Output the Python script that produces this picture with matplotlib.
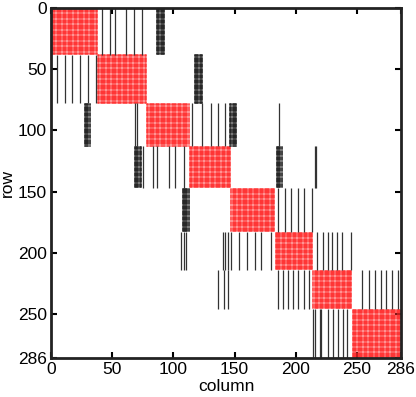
import numpy as np
import matplotlib
matplotlib.use('Agg')
import matplotlib.pyplot as plt

plt.rcParams['font.family'] = ['Liberation Sans', 'DejaVu Sans']

n = 286
# diagonal blocks (1-based, inclusive start, exclusive end)
block_starts = [1, 39, 79, 114, 148, 184, 215, 247]
block_ends = [39, 79, 114, 148, 184, 215, 247, 287]

# off-diagonal single columns that are nonzero over the whole row block
line_cols = [
	[42, 49, 53, 62, 68, 75],
	[5, 12, 18, 24, 31, 37],
	[69, 71, 116, 124, 131, 137, 143, 187],
	[76, 84, 87, 97, 102, 109, 216, 217],
	[186, 192, 197, 202, 207, 214],
	[107, 109, 111, 141, 143, 145, 148, 154, 161, 167, 172, 180,
	 218, 223, 227, 230, 234, 238, 246],
	[137, 142, 145, 186, 190, 194, 198, 202, 207, 211,
	 255, 260, 265, 270, 274, 279, 284],
	[215, 216, 220, 221, 227, 231, 235, 239, 242],
]
# dense column ranges (start, end inclusive) per row block
dense_cols = [
	[(87, 93)],
	[(118, 124)],
	[(28, 32), (147, 152)],
	[(69, 74), (185, 189)],
	[(108, 113)],
	[],
	[],
	[],
]

ticks = [0, 50, 100, 150, 200, 250, 286]

# build the sparsity pattern
red = np.zeros((n, n), dtype=bool)
dense = np.zeros((n, n), dtype=bool)
for b in range(len(block_starts)):
	r0, r1 = block_starts[b] - 1, block_ends[b] - 1
	red[r0:r1, r0:r1] = True
	for c0, c1 in dense_cols[b]:
		dense[r0:r1, c0 - 1:c1] = True

fig = plt.figure(figsize=(4.16, 3.97), dpi=100)
ax = fig.add_axes([0.1226, 0.0982, 0.8413, 0.8816])

rr, cc = np.nonzero(red)
ax.plot(cc + 0.5, rr + 0.5, 's', ms=1.55, mew=0, color='#ff2a2a', alpha=0.5)
rr, cc = np.nonzero(dense)
ax.plot(cc + 0.5, rr + 0.5, 's', ms=1.5, mew=0, color='#222222', alpha=0.6)

# single nonzero columns spanning a whole row block
for b in range(len(block_starts)):
	ax.vlines(np.array(line_cols[b]) - 0.5, block_starts[b] - 1,
			  block_ends[b] - 1, colors='#333333', linewidth=0.9)

ax.set_xlim(0, n)
ax.set_ylim(n, 0)
ax.set_xticks(ticks)
ax.set_yticks(ticks)
ax.tick_params(direction='in', top=True, right=True, length=4, width=1.5,
			   labelsize=12.5, pad=3)
for s in ax.spines.values():
	s.set_linewidth(2)
	s.set_color('#222222')
ax.set_xlabel('column', fontsize=12.5, labelpad=1.5)
ax.set_ylabel('row', fontsize=12.5, labelpad=2)

fig.savefig('out.png', dpi=100)
